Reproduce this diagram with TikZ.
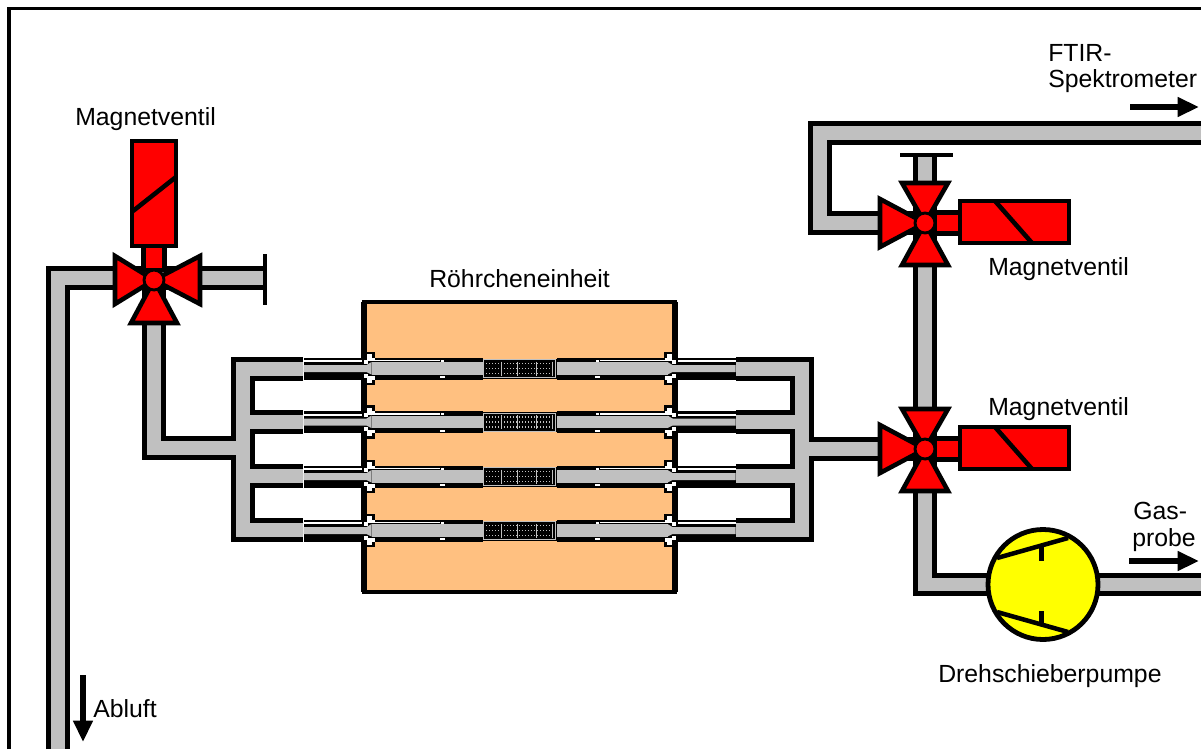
\documentclass[tikz,border=0pt]{standalone}
\usepackage{fontspec}
\setmainfont{Liberation Sans}
\usetikzlibrary{arrows.meta}
\definecolor{pipegray}{HTML}{C0C0C0}
\definecolor{blockorange}{HTML}{FFC080}
\definecolor{pumpyellow}{HTML}{FFFF00}
\definecolor{valvered}{HTML}{FF0000}
\tikzset{
  x=0.75pt,y=-0.75pt,
  pipeout/.style={draw=black,line width=17.5pt,line join=miter},
  pipein/.style={draw=pipegray,line width=10.2pt,line join=miter},
  redpart/.style={fill=valvered,draw=black,line width=3.4pt,line join=miter},
  endbar/.style={draw=black,line width=3.4pt},
  blackline/.style={draw=black,line width=3.4pt},
  flow/.style={draw=black,line width=4.2pt,-{Triangle[length=16pt,width=14pt]}},
  label/.style={anchor=base west,inner sep=0pt,font=\fontsize{18.6}{21}\selectfont}
}
% all pipes, drawn once in black and once in grey so that T joints stay open
\newcommand\pipenet[1]{%
  \draw[#1] (exhaust) -- (exhaustcorner) -- (deadL);
  \draw[#1] (vL) -- (lowL) -- (manLmid);
  \draw[#1] (manLa) -- (manLtop) -- (manLbot) -- (manLd);
  \draw[#1] (manLb) -- (manLbm);
  \draw[#1] (manLc) -- (manLcm);
  \draw[#1] (manRa) -- (manRtop) -- (manRbot) -- (manRd);
  \draw[#1] (manRb) -- (manRbm);
  \draw[#1] (manRc) -- (manRcm);
  \draw[#1] (manRmid) -- (vB);
  \draw[#1] (vB) -- (vT) -- (deadT);
  \draw[#1] (ftirout) -- (ftircorner) -- (ftirlow) -- (vT);
  \draw[#1] (vB) -- (pumpcorner) -- (pump);
  \draw[#1] (pump) -- (gasout);
}
% half a tube: right half drawn, mirrored for the left one
\newcommand\halftube{%
  \fill[black] (37,-11) rectangle (216,11);
  \fill[pipegray] (37,-6.5) rectangle (148,6);
  \fill[pipegray] (148,-6.5) -- (153,-3.5) -- (216,-3.5) -- (216,3.5) -- (153,3.5) -- (148,6) -- cycle;
  \fill[white] (80,-8.7) rectangle (146,-7.4);
  \fill[white] (76,-9) rectangle (79,-7);
  \fill[white] (75,7.5) rectangle (80,9.5);
  \fill[white] (158,-8.2) rectangle (216,-6.4);
  % ferrules
  \foreach \q in {1,-1}{
    \fill[white] (145,{\q*7.5}) rectangle (152.5,{\q*14.5});
    \fill[white] (152,{\q*5}) rectangle (156,{\q*9});
    \draw[black,line width=1.6pt] (152.5,{\q*15.5}) -- (146,{\q*15.5}) -- (146,{\q*11});
  }
}
\newcommand\filterbox{%
  \fill[black] (-37,-10) rectangle (37,10);
  \draw[pipegray,line width=0.6pt] (-36,-9) rectangle (36,9);
  \foreach \fx in {-33,-30,...,33}{
    \foreach \fy in {-5,0,5}{
      \fill[pipegray] (\fx-.7,\fy-.7) rectangle (\fx+.7,\fy+.7);
    }
  }
  \foreach \fx in {-18,-2,17,33}{
    \draw[pipegray,line width=0.7pt] (\fx,-7) -- (\fx,7);
  }
}
\begin{document}
\begin{tikzpicture}
\useasboundingbox (0,0) rectangle (1201,749);
\fill[white] (0,0) rectangle (1201,749);
% junction coordinates
\coordinate (vL) at (154,280);
\coordinate (vT) at (925,223);
\coordinate (vB) at (925,449);
\coordinate (pump) at (1043,584.5);
\coordinate (exhaust) at (58,749);
\coordinate (exhaustcorner) at (58,278);
\coordinate (deadL) at (265,278);
\coordinate (lowL) at (154,448);
\coordinate (manLmid) at (243,448);
\coordinate (manLtop) at (243,369);
\coordinate (manLbot) at (243,530);
\coordinate (manLbm) at (243,422);
\coordinate (manLcm) at (243,476);
\coordinate (manLa) at (303,369);
\coordinate (manLb) at (303,422);
\coordinate (manLc) at (303,476);
\coordinate (manLd) at (303,530);
\coordinate (manRtop) at (802,369);
\coordinate (manRbot) at (802,530);
\coordinate (manRbm) at (802,422);
\coordinate (manRcm) at (802,476);
\coordinate (manRmid) at (802,449);
\coordinate (manRa) at (736,369);
\coordinate (manRb) at (736,422);
\coordinate (manRc) at (736,476);
\coordinate (manRd) at (736,530);
\coordinate (deadT) at (925,155);
\coordinate (ftirout) at (1201,133);
\coordinate (ftircorner) at (820,133);
\coordinate (ftirlow) at (820,223);
\coordinate (pumpcorner) at (925,584.5);
\coordinate (gasout) at (1201,584.5);
% frame
\draw[black,line width=2.7pt] (9,749) -- (9,8.5) -- (1201,8.5);
% tube block
\draw[black,line width=3.6pt,fill=blockorange] (364,302) rectangle (675,592);
\draw[black,line width=4.5pt] (364,302) -- (364,592) (675,302) -- (675,592);
% pipes
\pipenet{pipeout}
\pipenet{pipein}
% end bars
\draw[endbar] (265,254) -- (265,305);
\draw[endbar] (900,155) -- (953,155);
% tubes
\foreach \ty in {368.5,422,476.5,530.5}{
  \begin{scope}[shift={(519.5,\ty)}]
    \begin{scope}\halftube\end{scope}
    \begin{scope}[xscale=-1]\halftube\end{scope}
    \filterbox
  \end{scope}
}
% left valve
\draw[redpart] (143.5,270) rectangle (164.5,245);
\draw[redpart] (132,141) rectangle (176,246);
\draw[blackline] (133,211) -- (176,177);
\draw[redpart] (vL) -- ++(-39,-24) -- ++(0,48) -- cycle;
\draw[redpart] (vL) -- ++(46,-24) -- ++(0,48) -- cycle;
\draw[redpart] (vL) -- ++(-23,43) -- ++(46,0) -- cycle;
\draw[redpart,line width=2.2pt] (vL) circle (10);
% upper right valve
\draw[redpart] (970,212.5) rectangle (935,233.5);
\draw[redpart] (vT) -- ++(-45,-24) -- ++(0,48) -- cycle;
\draw[redpart] (vT) -- ++(-23,-40) -- ++(46,0) -- cycle;
\draw[redpart] (vT) -- ++(-23,42) -- ++(46,0) -- cycle;
\draw[redpart,line width=2.2pt] (vT) circle (10);
\draw[redpart] (960,201) rectangle (1069,243);
\draw[blackline] (995,201) -- (1032,243);
% lower right valve
\draw[redpart] (970,438.5) rectangle (935,459.5);
\draw[redpart] (vB) -- ++(-45,-24) -- ++(0,48) -- cycle;
\draw[redpart] (vB) -- ++(-23,-40) -- ++(46,0) -- cycle;
\draw[redpart] (vB) -- ++(-23,42) -- ++(46,0) -- cycle;
\draw[redpart,line width=2.2pt] (vB) circle (10);
\draw[redpart] (960,427) rectangle (1069,469);
\draw[blackline] (995,427) -- (1032,469);
% pump
\draw[black,line width=3.6pt,fill=pumpyellow] (pump) circle (55);
\draw[blackline] (997,558) -- (1068,538);
\draw[blackline] (997,612) -- (1068,632);
\draw[blackline] (1041.5,547) -- (1041.5,561);
\draw[blackline] (1041.5,611) -- (1041.5,625);
% flow arrows
\coordinate (ftirfrom) at (1130,107);
\coordinate (ftirto) at (1199,107);
\coordinate (gasfrom) at (1129,561);
\coordinate (gasto) at (1199,561);
\coordinate (ablfrom) at (83,675);
\coordinate (ablto) at (83,742);
\draw[flow] (ftirfrom) -- (ftirto);
\draw[flow] (gasfrom) -- (gasto);
\draw[flow] (ablfrom) -- (ablto);
% labels
\node[label] (t1) at (75,125) {Magnetventil};
\node[label] (t2) at (988,275) {Magnetventil};
\node[label] (t3) at (988,415) {Magnetventil};
\node[label] (t4) at (429,287) {Röhrcheneinheit};
\node[label] (t5) at (1048,61) {FTIR-};
\node[label] (t6) at (1048,88) {Spektrometer};
\node[label] (t7) at (1133,519) {Gas-};
\node[label] (t8) at (1132,546) {probe};
\node[label] (t9) at (938,682) {Drehschieberpumpe};
\node[label] (t10) at (93,717) {Abluft};
\end{tikzpicture}
\end{document}
